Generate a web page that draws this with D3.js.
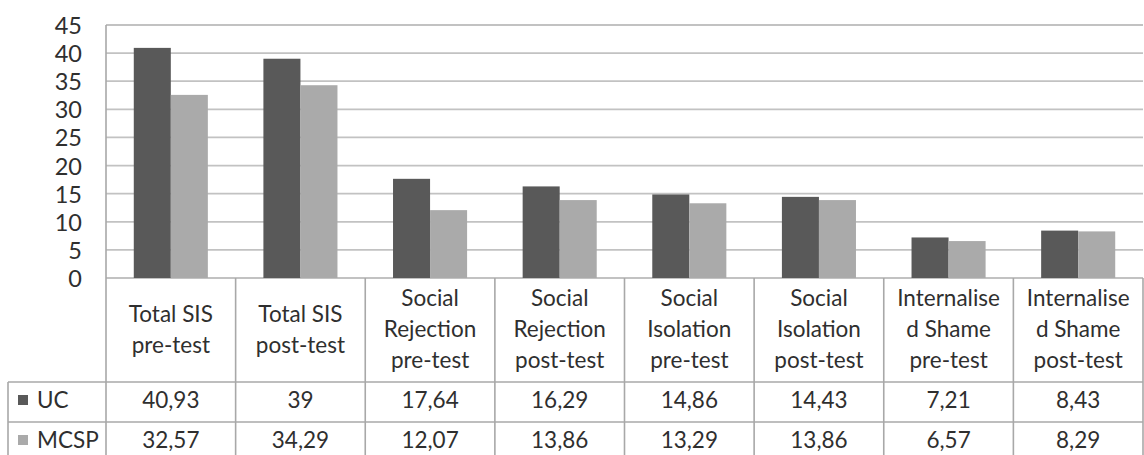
<!DOCTYPE html>
<html>
<head>
<meta charset="utf-8">
<script src="https://cdn.jsdelivr.net/npm/d3@7"></script>
<style>
  html, body { margin: 0; padding: 0; background: #fff; }
  svg { display: block; }
  text { font-family: Lato, "Open Sans", sans-serif; fill: #2f2f2f; }
</style>
</head>
<body>
<svg id="chart" width="1144" height="455"></svg>
<script>
// Category labels (line breaks inside header cells)
const categories = [
  "Total SIS\npre-test",
  "Total SIS\npost-test",
  "Social\nRejection\npre-test",
  "Social\nRejection\npost-test",
  "Social\nIsolation\npre-test",
  "Social\nIsolation\npost-test",
  "Internalise\nd Shame\npre-test",
  "Internalise\nd Shame\npost-test"
];
const seriesNames = ["UC", "MCSP"];
const ucValues   = [40.93, 39, 17.64, 16.29, 14.86, 14.43, 7.21, 8.43];
const mcspValues = [32.57, 34.29, 12.07, 13.86, 13.29, 13.86, 6.57, 8.29];
const yTicks = [0, 5, 10, 15, 20, 25, 30, 35, 40, 45];

const seriesValues = [ucValues, mcspValues];
const colors = ["#595959", "#aaaaaa"];

const svg = d3.select("#chart");

// Plot frame
const plotLeft = 106, plotRight = 1143, plotTop = 25, plotBottom = 278;
const headerBottom = 382, rowH = 40, tableLeft = 8;
const labelSize = 22.5;

const x = d3.scaleBand().domain(d3.range(categories.length)).range([plotLeft, plotRight]).paddingInner(0).paddingOuter(0);
const x1 = d3.scaleBand().domain(seriesNames).range([0, x.bandwidth()]).paddingInner(0).paddingOuter(0.75);
const y = d3.scaleLinear().domain([0, 45]).range([plotBottom, plotTop]);

// Horizontal gridlines
svg.append("g")
  .selectAll("line")
  .data(yTicks)
  .join("line")
  .attr("x1", plotLeft).attr("x2", plotRight)
  .attr("y1", d => y(d)).attr("y2", d => y(d))
  .attr("stroke", "#c2c2c2").attr("stroke-width", 1.8);

// Y axis labels
const yAxis = d3.axisLeft(y).tickValues(yTicks).tickSize(0).tickPadding(0);
const gy = svg.append("g").attr("transform", `translate(82,0)`).call(yAxis);
gy.select(".domain").remove();
gy.selectAll("text")
  .attr("font-family", "Lato, 'Open Sans', sans-serif")
  .attr("font-size", 23.5)
  .attr("fill", "#2f2f2f")
  .attr("dy", "0.36em");

// Bars
seriesNames.forEach((s, si) => {
  svg.append("g")
    .selectAll("rect")
    .data(seriesValues[si])
    .join("rect")
    .attr("x", (d, i) => x(i) + x1(s))
    .attr("width", x1.bandwidth())
    .attr("y", d => y(d))
    .attr("height", d => y(0) - y(d))
    .attr("fill", colors[si]);
});

// Data table grid
const tableBottom = headerBottom + rowH * seriesNames.length + 10;
const grid = svg.append("g").attr("stroke", "#a8a8a8").attr("stroke-width", 1.6);
// vertical lines at category boundaries
d3.range(categories.length + 1).forEach(i => {
  const xx = i < categories.length ? x(i) : plotRight;
  grid.append("line")
    .attr("x1", xx).attr("x2", xx)
    .attr("y1", i === 0 ? plotTop : plotBottom).attr("y2", tableBottom);
});
// legend column left border
grid.append("line").attr("x1", tableLeft).attr("x2", tableLeft)
  .attr("y1", headerBottom).attr("y2", tableBottom);
// row separators
[headerBottom, headerBottom + rowH].forEach(yy => {
  grid.append("line").attr("x1", tableLeft).attr("x2", plotRight)
    .attr("y1", yy).attr("y2", yy);
});

// Header labels
const headerMid = (plotBottom + headerBottom) / 2;
const lineGap = 31;
svg.append("g")
  .selectAll("text")
  .data(categories)
  .join("text")
  .attr("text-anchor", "middle")
  .attr("font-size", labelSize)
  .each(function(d, i) {
    const lines = d.split("\n");
    const t = d3.select(this);
    lines.forEach((ln, li) => {
      t.append("tspan")
        .attr("x", x(i) + x.bandwidth() / 2)
        .attr("y", headerMid + 7 + (li - (lines.length - 1) / 2) * lineGap)
        .text(ln);
    });
  });

// Value rows with legend keys
const fmt = v => String(v).replace(".", ",");
seriesNames.forEach((s, si) => {
  const base = headerBottom + rowH * si + 26;
  svg.append("rect")
    .attr("x", 18).attr("y", base - 13)
    .attr("width", 10).attr("height", 10)
    .attr("fill", colors[si]);
  svg.append("text")
    .attr("x", 37).attr("y", base)
    .attr("font-size", labelSize)
    .text(s);
  svg.append("g")
    .selectAll("text")
    .data(seriesValues[si])
    .join("text")
    .attr("x", (d, i) => x(i) + x.bandwidth() / 2)
    .attr("y", base)
    .attr("text-anchor", "middle")
    .attr("font-size", labelSize)
    .text(fmt);
});
</script>
</body>
</html>
